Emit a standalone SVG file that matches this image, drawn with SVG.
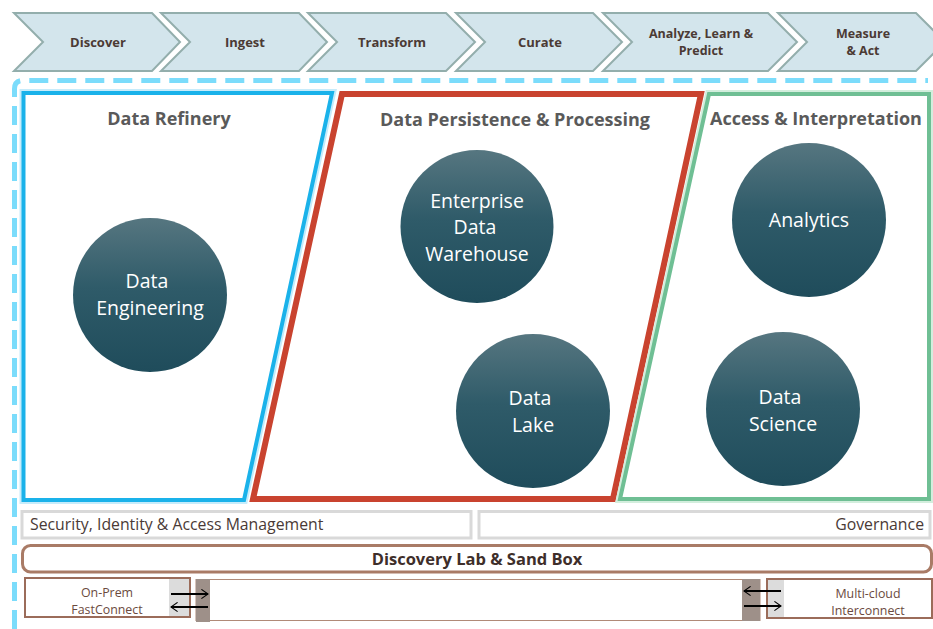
<svg xmlns="http://www.w3.org/2000/svg" width="933" height="629" viewBox="0 0 933 629">
<defs>
<linearGradient id="gc" x1="0" y1="0" x2="0" y2="1">
<stop offset="0" stop-color="#567680"/>
<stop offset="0.45" stop-color="#2f5b69"/>
<stop offset="1" stop-color="#1f4c5b"/>
</linearGradient>
<marker id="ah" viewBox="0 0 10 10" refX="9" refY="5" markerWidth="5.5" markerHeight="5.5" orient="auto" markerUnits="strokeWidth">
<path d="M3,0.8 L9,5 L3,9.2" fill="none" stroke="#000" stroke-width="1"/>
</marker>
<style>
.chev{fill:#d3e5ec;stroke:#93aeac;stroke-width:2}
.ct{font-family:"Open Sans","Noto Sans",sans-serif;font-weight:bold;font-size:13px;fill:#4b3a34;text-anchor:middle}
.ct2{font-family:"Open Sans","Noto Sans",sans-serif;font-weight:bold;font-size:12.5px;fill:#4b3a34;text-anchor:middle}
.title{font-family:"Open Sans","Noto Sans",sans-serif;font-weight:bold;font-size:18px;fill:#5a5a5a;text-anchor:middle}
.node{fill:url(#gc)}
.nt{font-family:"Open Sans","Noto Sans",sans-serif;font-size:19.5px;fill:#ffffff;text-anchor:middle}
.bar{fill:#fff;stroke:#d9d9d9;stroke-width:3}
.bt{font-family:"Open Sans","Noto Sans",sans-serif;font-size:15.8px;fill:#4a3a36}
.st{font-family:"Open Sans","Noto Sans",sans-serif;font-size:12.4px;fill:#6b4a3e;text-anchor:middle}
.arr{stroke:#000;stroke-width:2;fill:none;marker-end:url(#ah)}
</style>
</defs>

<g id="chevrons">
<g id="ch-discover"><polygon class="chev" points="14,13 152,13 180,42 152,71 14,71 43,42"/><text class="ct" x="98" y="47">Discover</text></g>
<g id="ch-ingest"><polygon class="chev" points="161,13 299,13 327,42 299,71 161,71 190,42"/><text class="ct" x="245" y="47">Ingest</text></g>
<g id="ch-transform"><polygon class="chev" points="308,13 446,13 475,42 446,71 308,71 337,42"/><text class="ct" x="392" y="47">Transform</text></g>
<g id="ch-curate"><polygon class="chev" points="456,13 593,13 622,42 593,71 456,71 485,42"/><text class="ct" x="540" y="47">Curate</text></g>
<g id="ch-analyze"><polygon class="chev" points="603,13 768,13 797,42 768,71 603,71 632,42"/><text class="ct2" x="701" y="37.5">Analyze, Learn &amp;</text><text class="ct2" x="701" y="54.5">Predict</text></g>
<g id="ch-measure"><polygon class="chev" points="778,13 916,13 945,42 916,71 778,71 807,42"/><text class="ct2" x="863" y="37.5">Measure</text><text class="ct2" x="863" y="54.5">&amp; Act</text></g>
</g>

<g id="outer-dashed">
<path d="M14.5,629 L14.5,89 Q14.5,80.5 23,80.5 L928,80.5" fill="none" stroke="#7bdcfb" stroke-width="5" stroke-dasharray="19 9"/>
</g>

<g id="data-refinery">
<polygon points="23.5,93 332,93 244,500 23.5,500" fill="#fff" stroke="#c6ecfb" stroke-width="8" stroke-linejoin="miter"/>
<polygon points="23.5,93 332,93 244,500 23.5,500" fill="#fff" stroke="#1ab2ea" stroke-width="4"/>
<text class="title" x="169" y="125">Data Refinery</text>
</g>
<g id="data-persistence">
<polygon points="342,94 701,94 613,499 253,499" fill="#fff" stroke="#c9432f" stroke-width="6"/>
<text class="title" x="515" y="126">Data Persistence &amp; Processing</text>
</g>
<g id="access-interpretation">
<polygon points="709,94 929,94 929,499 620,499" fill="#fff" stroke="#d3eedd" stroke-width="8"/>
<polygon points="709,94 929,94 929,499 620,499" fill="#fff" stroke="#6fbf94" stroke-width="4"/>
<text class="title" x="816" y="125">Access &amp; Interpretation</text>
</g>

<g id="n-data-engineering"><circle class="node" cx="150" cy="295" r="77"/><text class="nt" x="147" y="288">Data</text><text class="nt" x="150" y="314.7">Engineering</text></g>
<g id="n-edw"><circle class="node" cx="477" cy="226.5" r="76.5"/><text class="nt" x="477" y="207.5">Enterprise</text><text class="nt" x="475" y="234.2">Data</text><text class="nt" x="477" y="260.9">Warehouse</text></g>
<g id="n-data-lake"><circle class="node" cx="533" cy="411" r="77"/><text class="nt" x="530" y="405">Data</text><text class="nt" x="533" y="431.7">Lake</text></g>
<g id="n-analytics"><circle class="node" cx="809" cy="220" r="77"/><text class="nt" x="809" y="227">Analytics</text></g>
<g id="n-data-science"><circle class="node" cx="783" cy="409" r="77"/><text class="nt" x="780" y="404">Data</text><text class="nt" x="783" y="430.7">Science</text></g>

<g id="security"><rect class="bar" x="22" y="511.5" width="449" height="26.5"/><text class="bt" x="30" y="530">Security, Identity &amp; Access Management</text></g>
<g id="governance"><rect class="bar" x="479" y="511.5" width="451" height="26.5"/><text class="bt" x="924" y="530" text-anchor="end">Governance</text></g>

<g id="discovery-lab"><rect x="22.5" y="545.5" width="909" height="26.5" rx="8" fill="#fff" stroke="#a97b66" stroke-width="3"/><text class="bt" x="477" y="565" text-anchor="middle" style="font-weight:bold;font-size:16.5px;fill:#3e2e2a">Discovery Lab &amp; Sand Box</text></g>

<g id="network-strip">
<rect x="196" y="579.5" width="564" height="41" fill="#fff" stroke="#b08a78" stroke-width="1"/>
<rect x="196" y="579" width="14" height="43" fill="#9e9089"/>
<rect x="742" y="579" width="18" height="42" fill="#9e9089"/>
</g>
<g id="on-prem">
<rect x="25" y="578" width="165" height="39" fill="#fff" stroke="#9b6c5a" stroke-width="2"/>
<rect x="169" y="579" width="20" height="37" fill="#dcdcdc"/>
<text class="st" x="107" y="597">On-Prem</text><text class="st" x="107" y="614">FastConnect</text>
</g>
<g id="multi-cloud">
<rect x="767" y="579" width="165" height="39" fill="#fff" stroke="#9b6c5a" stroke-width="2"/>
<rect x="768" y="580" width="16" height="37" fill="#dcdcdc"/>
<text class="st" x="868" y="597.5">Multi-cloud</text><text class="st" x="868" y="614.5">Interconnect</text>
</g>
<g id="connectors">
<line class="arr" x1="171" y1="594" x2="208" y2="594"/>
<line class="arr" x1="208" y1="607" x2="171" y2="607"/>
<line class="arr" x1="781" y1="591" x2="744" y2="591"/>
<line class="arr" x1="744" y1="606" x2="781" y2="606"/>
</g>
</svg>
